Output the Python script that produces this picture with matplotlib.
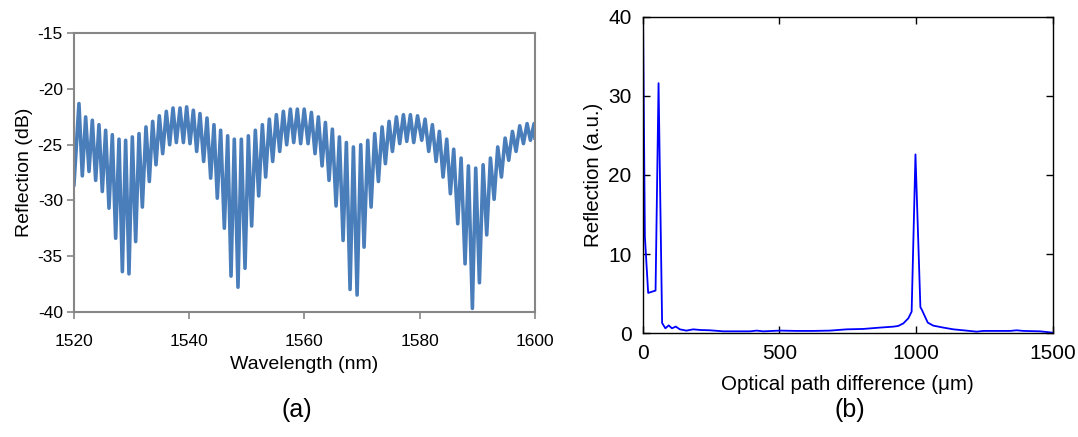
import matplotlib
matplotlib.use("Agg")
import matplotlib.pyplot as plt
import numpy as np

plt.rcParams["font.family"] = ["Liberation Sans", "DejaVu Sans"]
plt.rcParams["axes.unicode_minus"] = False

# ── (a) reflection spectrum: fringe peaks and dips ──────────────────────────
peak_wl = [1520.87, 1522.03, 1523.19, 1524.34, 1525.50, 1526.66, 1527.82, 1528.97, 1530.13,
           1531.29, 1532.50, 1533.66, 1534.82, 1536.03, 1537.19, 1538.41, 1539.56,
           1540.72, 1541.87, 1543.09, 1544.30, 1545.46, 1546.68, 1547.83, 1549.05,
           1550.27, 1551.48, 1552.70, 1553.91, 1555.13, 1556.34, 1557.56, 1558.77, 1559.96,
           1561.21, 1562.42, 1563.64, 1564.85, 1566.07, 1567.28, 1568.50, 1569.77,
           1570.99, 1572.20, 1573.48, 1574.69, 1575.96, 1577.18, 1578.39, 1579.63,
           1580.94, 1582.21, 1583.42, 1584.70, 1585.91, 1587.19, 1588.46, 1589.73,
           1591.01, 1592.28, 1593.55, 1594.83, 1596.10, 1597.37, 1598.64, 1599.86]
peak_db = [-21.3, -22.5, -22.8, -23.2, -23.7, -24.1, -24.5, -24.6, -24.3,
           -24.0, -23.4, -22.9, -22.4, -22.0, -21.7, -21.7, -21.6,
           -21.9, -22.2, -22.6, -23.2, -23.7, -24.2, -24.5, -24.5,
           -24.2, -23.7, -23.2, -22.7, -22.3, -22.0, -21.8, -21.8, -21.8,
           -22.1, -22.5, -23.0, -23.6, -24.3, -24.8, -25.2, -25.0,
           -24.6, -24.0, -23.4, -22.9, -22.5, -22.3, -22.3, -22.4,
           -22.7, -23.2, -23.8, -24.5, -25.4, -26.2, -26.9, -27.1,
           -26.8, -26.2, -25.2, -24.4, -23.8, -23.3, -23.1, -23.1]

dip_wl = [1520.00, 1521.45, 1522.61, 1523.77, 1524.92, 1526.08, 1527.24, 1528.40, 1529.55,
          1530.71, 1531.87, 1533.08, 1534.24, 1535.40, 1536.61, 1537.77, 1538.99,
          1540.14, 1541.30, 1542.51, 1543.73, 1544.88, 1546.10, 1547.26, 1548.47,
          1549.69, 1550.84, 1552.06, 1553.27, 1554.49, 1555.71, 1556.92, 1558.14, 1559.35,
          1560.63, 1561.84, 1563.06, 1564.27, 1565.49, 1566.71, 1567.92, 1569.14,
          1570.35, 1571.57, 1572.84, 1574.05, 1575.27, 1576.54, 1577.76, 1578.97,
          1580.36, 1581.57, 1582.85, 1584.06, 1585.33, 1586.61, 1587.88, 1589.15,
          1590.37, 1591.64, 1592.92, 1594.19, 1595.46, 1596.73, 1598.01, 1599.22, 1600.00]
dip_db = [-28.6, -27.8, -27.4, -28.2, -29.2, -30.7, -33.4, -36.4, -36.6,
          -33.7, -30.6, -28.3, -26.8, -25.8, -25.0, -24.8, -24.8,
          -24.9, -25.6, -26.5, -28.0, -29.8, -32.5, -36.8, -37.8,
          -36.1, -32.3, -29.6, -27.9, -26.5, -25.6, -25.0, -24.8, -24.9,
          -24.9, -25.8, -26.9, -28.2, -30.5, -33.6, -38.0, -38.5,
          -34.2, -30.6, -28.3, -26.7, -25.6, -24.9, -24.7, -24.8,
          -24.6, -25.6, -26.5, -27.9, -29.4, -32.1, -35.7, -39.7,
          -37.4, -33.1, -29.9, -27.9, -26.4, -25.6, -24.9, -24.6, -24.4]

# ── (b) spatial spectrum ────────────────────────────────────────────────────
opd = [0, 8, 20, 47, 58, 71, 83, 95, 107, 121,
       136, 160, 185, 210, 246, 295, 393, 417, 441, 502,
       563, 624, 685, 746, 807, 868, 917, 935, 954, 972,
       984, 998, 1016, 1021, 1043, 1063, 1100, 1137, 1173, 1222,
       1246, 1295, 1344, 1368, 1393, 1454, 1500]
refl = [45, 12.2, 5.1, 5.4, 31.6, 1.3, 0.63, 1.0, 0.63, 0.85,
        0.5, 0.34, 0.5, 0.42, 0.38, 0.25, 0.25, 0.34, 0.25, 0.34,
        0.3, 0.3, 0.34, 0.5, 0.55, 0.72, 0.84, 0.93, 1.26, 1.9,
        2.74, 22.6, 3.3, 3.0, 1.35, 0.97, 0.72, 0.5, 0.38, 0.21,
        0.3, 0.3, 0.3, 0.38, 0.3, 0.25, 0.08]

# merge peaks and dips into one trace ordered by wavelength
wl = np.concatenate([peak_wl, dip_wl])
db = np.concatenate([peak_db, dip_db])
order = np.argsort(wl)
wl, db = wl[order], db[order]

fig = plt.figure(figsize=(10.78, 4.37), dpi=100)

# ── panel (a), Excel look ──
ax1 = fig.add_axes([0.0686, 0.2867, 0.4276, 0.6368])
ax1.plot(wl, db, color="#4A7EBB", lw=2.6, solid_joinstyle="round")
ax1.set_xlim(1520, 1600)
ax1.set_ylim(-40, -15)
ax1.set_xticks([1520, 1540, 1560, 1580, 1600])
ax1.set_yticks([-40, -35, -30, -25, -20, -15])
for sp in ax1.spines.values():
    sp.set_color("#868686")
    sp.set_linewidth(1.5)
ax1.tick_params(direction="out", length=5, width=1.2, color="#868686",
                labelsize=12.5, pad=3)
ax1.tick_params(axis="x", pad=11)
ax1.set_xlabel("Wavelength (nm)", fontsize=14, labelpad=5)
ax1.set_ylabel("Reflection (dB)", fontsize=14, labelpad=3)

# ── panel (b), MATLAB look ──
ax2 = fig.add_axes([0.5962, 0.2373, 0.3803, 0.7245])
ax2.plot(opd, refl, color="#0000FF", lw=1.3)
ax2.set_xlim(0, 1500)
ax2.set_ylim(0, 40)
ax2.set_xticks([0, 500, 1000, 1500])
ax2.set_yticks([0, 10, 20, 30, 40])
for sp in ax2.spines.values():
    sp.set_color("black")
    sp.set_linewidth(1.0)
ax2.tick_params(direction="in", length=5, width=1.0, top=True, right=True,
                labelsize=15, pad=8)
ax2.set_xlabel("Optical path difference (\u03bcm)", fontsize=14.8, labelpad=8)
ax2.set_ylabel("Reflection (a.u.)", fontsize=14.8, labelpad=4)

fig.text(0.2755, 0.062, "(a)", fontsize=18, ha="center", va="center")
fig.text(0.7885, 0.062, "(b)", fontsize=18, ha="center", va="center")

fig.savefig("out.png", dpi=100)
